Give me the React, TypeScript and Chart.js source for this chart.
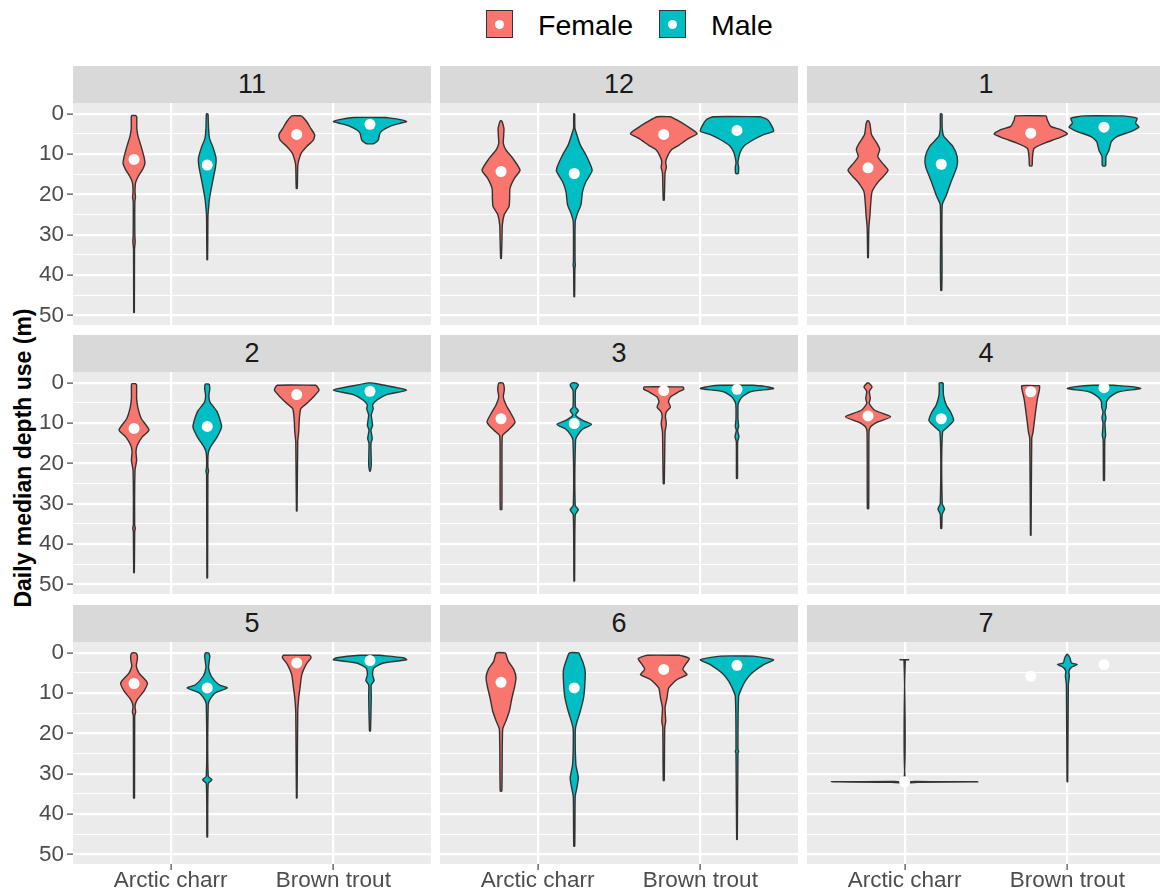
import React, { useEffect, useRef } from 'react';
import { Chart, registerables } from 'chart.js';

Chart.register(...registerables);

type Shape = [number, number][];

// ---------------- data ----------------
const months = ['11', '12', '1', '2', '3', '4', '5', '6', '7'];
const species = ['Arctic charr', 'Brown trout'];
const sexes = ['Female', 'Male'];
const depthTicks = [0, 5, 10, 15, 20, 25, 30, 35, 40, 45, 50];
const speciesTicks = [1, 2];

// violin outlines: [depth (m), half width (x units)]
const m11AcF: Shape = [[0.4,0.012],[0.8,0.017],[3.6,0.017],[5.6,0.025],[7.7,0.041],[10.6,0.061],[12.3,0.067],[13.9,0.051],[15.6,0.025],[17,0.01],[19.3,0.006],[20.6,0.009],[21.8,0.005],[30,0.005],[31.8,0.007],[33.5,0.003],[49.3,0.002]];
const m11AcM: Shape = [[0,0.005],[3.6,0.008],[6.1,0.014],[8.5,0.037],[11,0.054],[13.1,0.051],[16.8,0.033],[21,0.014],[24.3,0.006],[26,0.004],[36.2,0.002]];
const m11BtF: Shape = [[0.5,0.03],[1.9,0.061],[3.6,0.086],[5.2,0.11],[6.5,0.102],[8.1,0.061],[9.8,0.027],[11.9,0.01],[13.1,0.006],[18.5,0.003]];
const m11BtM: Shape = [[0.9,0.1],[1.3,0.17],[1.9,0.225],[2.4,0.18],[3.1,0.123],[4.0,0.08],[4.8,0.061],[6.5,0.051],[7.1,0.035],[7.4,0.02]];

const m12AcF: Shape = [[1.7,0.004],[2.3,0.01],[3.6,0.018],[5.6,0.016],[7.3,0.014],[9,0.031],[11,0.072],[14,0.117],[16,0.082],[18.5,0.055],[21,0.053],[23,0.049],[25,0.02],[27.6,0.008],[31,0.006],[35.9,0.002]];
const m12AcM: Shape = [[0,0.003],[3.6,0.004],[4.4,0.01],[7.7,0.037],[10.2,0.072],[14,0.11],[16.8,0.072],[19.3,0.051],[22.6,0.041],[24.7,0.02],[26.8,0.006],[36.7,0.005],[37.5,0.007],[38.3,0.004],[45.4,0.002]];
const m12BtF: Shape = [[0.7,0.041],[2,0.102],[3.6,0.164],[4.9,0.205],[6.1,0.153],[7.8,0.092],[9,0.045],[10.8,0.02],[12,0.012],[13.3,0.016],[14.6,0.008],[21.4,0.003]];
const m12BtM: Shape = [[0.7,0.143],[1.5,0.19],[3.1,0.215],[4.3,0.225],[5.2,0.16],[6.3,0.106],[7.9,0.045],[9.5,0.02],[11,0.01],[12.2,0.006],[13.2,0.01],[14.8,0.008]];

const m1AcF: Shape = [[1.7,0.004],[2.5,0.012],[5.2,0.022],[7.3,0.055],[8.8,0.072],[10.6,0.06],[12.3,0.09],[14,0.123],[15.5,0.095],[17,0.06],[19.3,0.025],[22.6,0.016],[25.1,0.012],[28.4,0.005],[35.7,0.002]];
const m1AcM: Shape = [[0,0.005],[3.6,0.006],[5.6,0.016],[8.1,0.072],[10.6,0.098],[13.1,0.096],[16.8,0.061],[20.2,0.031],[22.6,0.006],[38.4,0.005],[43.8,0.003]];
const m1BtF: Shape = [[0.5,0.095],[1.5,0.102],[3.1,0.123],[3.9,0.184],[5,0.225],[6.1,0.164],[7.3,0.082],[8.6,0.02],[11.1,0.01],[12.9,0.008]];
const m1BtM: Shape = [[0.5,0.12],[1.1,0.204],[2.3,0.194],[3.3,0.215],[4.4,0.164],[5.6,0.082],[6.9,0.045],[9,0.031],[10.6,0.012],[12.9,0.01]];

const m2AcF: Shape = [[0.2,0.012],[0.6,0.016],[3.9,0.016],[6.4,0.025],[8.9,0.045],[11.7,0.092],[13.4,0.051],[15.5,0.02],[17.1,0.012],[19.2,0.016],[21.7,0.006],[35.3,0.004],[36.1,0.008],[36.9,0.004],[47.1,0.002]];
const m2AcM: Shape = [[0.3,0.012],[1.4,0.016],[3.1,0.01],[4.7,0.016],[7.2,0.061],[10.9,0.088],[13.4,0.061],[15.9,0.02],[17.5,0.006],[21,0.004],[21.9,0.008],[22.8,0.004],[48.4,0.002]];
const m2BtF: Shape = [[0.6,0.12],[1.8,0.137],[3.5,0.102],[5.1,0.061],[6.4,0.025],[8.9,0.016],[12.2,0.012],[14.6,0.006],[31.8,0.002]];
const m2BtM: Shape = [[0,0.01],[0.7,0.102],[1.8,0.225],[2.9,0.102],[4.3,0.041],[5.5,0.016],[6.4,0.02],[8,0.008],[10.5,0.016],[11.7,0.006],[13.8,0.014],[15,0.006],[20.4,0.008],[21.9,0.002]];

const m3AcF: Shape = [[0,0.012],[0.6,0.018],[1.8,0.02],[3.5,0.014],[5.5,0.031],[7.6,0.061],[9.8,0.086],[11.7,0.045],[13,0.01],[15.1,0.006],[31.4,0.005]];
const m3AcM: Shape = [[0,0.012],[0.5,0.025],[1,0.02],[1.8,0.008],[3.9,0.006],[6,0.008],[6.9,0.025],[8,0.008],[9.3,0.051],[10.3,0.106],[11.5,0.051],[13,0.02],[14.2,0.008],[30.4,0.006],[31.5,0.025],[32.7,0.006],[49.2,0.002]];
const m3BtF: Shape = [[1,0.12],[1.6,0.123],[2.2,0.092],[3.5,0.041],[4.7,0.029],[6,0.041],[7.2,0.016],[8.4,0.01],[10.1,0.016],[12.2,0.008],[25,0.003]];
const m3BtM: Shape = [[0.6,0.1],[0.8,0.164],[1.4,0.225],[2.2,0.082],[3.5,0.031],[5.1,0.008],[8.9,0.006],[10.8,0.01],[11.8,0.004],[13.4,0.012],[14.6,0.004],[23.7,0.003]];

const m4AcF: Shape = [[0,0.004],[1,0.025],[2.1,0.008],[3.9,0.014],[5.1,0.008],[6.8,0.041],[8.4,0.139],[9.7,0.061],[10.9,0.016],[12.2,0.006],[31.2,0.004]];
const m4AcM: Shape = [[0,0.012],[1,0.012],[3.1,0.014],[5.5,0.031],[7.2,0.057],[9.3,0.076],[10.9,0.041],[12.2,0.008],[30,0.006],[31.3,0.02],[32.6,0.006],[36.1,0.003]];
const m4BtF: Shape = [[0.7,0.055],[1.8,0.053],[3.9,0.041],[8,0.027],[12.2,0.014],[13.8,0.006],[37.8,0.002]];
const m4BtM: Shape = [[0.6,0.061],[1,0.184],[1.4,0.225],[2.2,0.092],[3.5,0.037],[4.7,0.016],[6,0.014],[7.3,0.006],[8.7,0.012],[10,0.006],[13.1,0.01],[14,0.005],[24.2,0.003]];

const m5AcF: Shape = [[0,0.012],[0.6,0.02],[1.7,0.02],[3.3,0.014],[5,0.031],[7.4,0.082],[9.5,0.061],[11.6,0.02],[13.2,0.006],[14.7,0.01],[15.7,0.004],[36,0.003]];
const m5AcM: Shape = [[0,0.01],[0.8,0.016],[2.1,0.012],[3.7,0.008],[5.8,0.025],[7.9,0.072],[8.7,0.123],[9.9,0.051],[11.6,0.016],[12.8,0.006],[30.6,0.006],[31.5,0.029],[32.4,0.006],[45.7,0.002]];
const m5BtF: Shape = [[0.6,0.082],[1.2,0.088],[2.9,0.057],[5.4,0.031],[8.7,0.02],[11.2,0.012],[14.9,0.006],[36,0.002]];
const m5BtM: Shape = [[0.6,0.061],[1.2,0.204],[1.7,0.225],[2.5,0.082],[3.7,0.025],[5.4,0.016],[6.9,0.025],[7.9,0.008],[10.8,0.008],[19.4,0.003]];

const m6AcF: Shape = [[0,0.028],[2.1,0.045],[4.1,0.078],[6.2,0.092],[8.7,0.082],[11.2,0.067],[14.5,0.051],[17,0.029],[19,0.01],[34.3,0.005]];
const m6AcM: Shape = [[0,0.029],[2.1,0.051],[4.5,0.067],[7.9,0.065],[11.2,0.057],[14.5,0.037],[17.8,0.012],[19.4,0.006],[27.7,0.01],[31,0.025],[33.5,0.016],[35.6,0.006],[48,0.003]];
const m6BtF: Shape = [[0.6,0.1],[1.4,0.157],[2.9,0.133],[4.1,0.117],[5.4,0.143],[6.6,0.082],[8.7,0.031],[11.2,0.02],[13.6,0.008],[17,0.012],[18.5,0.006],[31.7,0.003]];
const m6BtM: Shape = [[0.8,0.1],[1.7,0.225],[2.9,0.164],[5,0.092],[7,0.051],[9.1,0.025],[10.8,0.01],[24,0.006],[24.5,0.01],[25,0.006],[46.3,0.002]];

const m7AcM: Shape = [[1.7,0.028],[1.8,0.004],[31.7,0.004],[31.9,0.08],[32,0.45],[32.1,0.08],[32.3,0.004]];
const m7BtM: Shape = [[0.4,0.004],[1.2,0.016],[2.5,0.025],[2.9,0.061],[3.6,0.025],[4.5,0.01],[5.8,0.012],[7.9,0.006],[32,0.002]];

// group order: [Arctic charr F, Arctic charr M, Brown trout F, Brown trout M]
const violins11 = [m11AcF, m11AcM, m11BtF, m11BtM];
const violins12 = [m12AcF, m12AcM, m12BtF, m12BtM];
const violins1 = [m1AcF, m1AcM, m1BtF, m1BtM];
const violins2 = [m2AcF, m2AcM, m2BtF, m2BtM];
const violins3 = [m3AcF, m3AcM, m3BtF, m3BtM];
const violins4 = [m4AcF, m4AcM, m4BtF, m4BtM];
const violins5 = [m5AcF, m5AcM, m5BtF, m5BtM];
const violins6 = [m6AcF, m6AcM, m6BtF, m6BtM];
const violins7 = [null, m7AcM, null, m7BtM];

const means11 = [11.3, 12.7, 5.1, 2.6];
const means12 = [14.3, 14.8, 5.1, 4.1];
const means1 = [13.4, 12.5, 4.8, 3.3];
const means2 = [11.3, 10.8, 2.9, 2.1];
const means3 = [8.9, 10.1, 1.9, 1.6];
const means4 = [8.2, 8.9, 2.2, 1.2];
const means5 = [7.6, 8.7, 2.5, 1.9];
const means6 = [7.3, 8.7, 4.1, 3.1];
const means7 = [null, 32, 5.8, 2.9];

const panelViolins = [violins11, violins12, violins1, violins2, violins3, violins4, violins5, violins6, violins7];
const panelMeans = [means11, means12, means1, means2, means3, means4, means5, means6, means7];

// ---------------- style / layout ----------------
const SEX_COLORS = ['#F8766D', '#00BFC4'];
const OUTLINE = '#333333';
const PANEL_BG = '#EBEBEB';
const STRIP_BG = '#D9D9D9';
const FONT = "'Liberation Sans', Arial, sans-serif";
const DODGE = 0.225;
const X_MIN = 0.4, X_MAX = 2.6;
const Y_MIN = -2.7, Y_MAX = 52.4;
const COL_LEFT = [73, 440, 807];
const ROW_TOP = [103, 372, 642];
const PANEL_W = 358;
const PANEL_H = 222;
const STRIP_H = 37.5;
const X_AXIS_H = 31;

const panelBg = {
  id: 'panelBg',
  beforeDraw(chart: any) {
    const { ctx, chartArea: a } = chart;
    ctx.save();
    ctx.fillStyle = PANEL_BG;
    ctx.fillRect(a.left, a.top, a.right - a.left, a.bottom - a.top);
    ctx.restore();
  },
};

function outline(shape: Shape, c: number) {
  const right = shape.map(([d, w]) => ({ x: c + w, y: d }));
  const left = shape.slice().reverse().map(([d, w]) => ({ x: c - w, y: d }));
  return [...right, ...left, right[0]];
}

function buildDatasets(violins: (Shape | null)[], means: (number | null)[]) {
  const ds: any[] = [];
  for (let sp = 0; sp < 2; sp++) {
    const vIdx = [0, 1].filter((sx) => violins[sp * 2 + sx]);
    for (const sx of vIdx) {
      const c = speciesTicks[sp] + (vIdx.length === 2 ? (sx === 0 ? -DODGE : DODGE) : 0);
      ds.push({
        label: species[sp] + ' ' + sexes[sx],
        data: outline(violins[sp * 2 + sx] as Shape, c),
        showLine: true,
        fill: 'shape',
        backgroundColor: SEX_COLORS[sx],
        borderColor: OUTLINE,
        borderWidth: 1.4,
        pointRadius: 0,
        pointHoverRadius: 0,
        tension: 0.2,
        order: 1,
      });
    }
    const mIdx = [0, 1].filter((sx) => means[sp * 2 + sx] != null);
    for (const sx of mIdx) {
      const c = speciesTicks[sp] + (mIdx.length === 2 ? (sx === 0 ? -DODGE : DODGE) : 0);
      ds.push({
        label: 'mean',
        data: [{ x: c, y: means[sp * 2 + sx] }],
        showLine: false,
        pointRadius: 5.5,
        pointHoverRadius: 5.5,
        backgroundColor: '#FFFFFF',
        borderWidth: 0,
        order: 0,
      });
    }
  }
  return ds;
}

function Panel({ idx }: { idx: number }) {
  const ref = useRef<HTMLCanvasElement>(null);
  const row = Math.floor(idx / 3);
  const col = idx % 3;
  const showY = col === 0;
  const showX = row === 2;
  const left = showY ? 0 : COL_LEFT[col];
  const width = showY ? COL_LEFT[0] + PANEL_W : PANEL_W;
  const height = PANEL_H + (showX ? X_AXIS_H : 0);

  useEffect(() => {
    const tickFont = { family: FONT, size: 22.5 };
    const chart = new Chart(ref.current as HTMLCanvasElement, {
      type: 'scatter',
      data: { datasets: buildDatasets(panelViolins[idx] as any, panelMeans[idx] as any) },
      options: {
        animation: false,
        responsive: false,
        maintainAspectRatio: false,
        events: [],
        layout: { padding: 0, autoPadding: false },
        plugins: { legend: { display: false }, tooltip: { enabled: false }, title: { display: false } },
        scales: {
          x: {
            type: 'linear',
            min: X_MIN,
            max: X_MAX,
            bounds: 'data',
            afterBuildTicks: (a: any) => { a.ticks = speciesTicks.map((v) => ({ value: v })); },
            afterFit: (a: any) => {
              a.height = showX ? X_AXIS_H : 0;
              a.paddingLeft = 0;
              a.paddingRight = 0;
              a.paddingTop = 0;
              a.paddingBottom = 0;
            },
            border: { display: false },
            grid: { color: '#FFFFFF', lineWidth: 2.2, drawTicks: showX, tickLength: 6, tickColor: OUTLINE, tickWidth: 1.1 },
            ticks: {
              display: showX,
              autoSkip: false,
              maxRotation: 0,
              padding: -3,
              color: '#4D4D4D',
              font: tickFont,
              callback: (_v: any, i: number) => species[i],
            },
          },
          y: {
            type: 'linear',
            reverse: true,
            min: Y_MIN,
            max: Y_MAX,
            bounds: 'data',
            afterBuildTicks: (a: any) => { a.ticks = depthTicks.map((v) => ({ value: v })); },
            afterFit: (a: any) => {
              a.width = showY ? COL_LEFT[0] : 0;
              a.paddingLeft = 0;
              a.paddingRight = 0;
              a.paddingTop = 0;
              a.paddingBottom = 0;
            },
            border: { display: false },
            grid: {
              color: '#FFFFFF',
              lineWidth: (c: any) => (c.tick && c.tick.value % 10 === 0 ? 2.2 : 1.1),
              drawTicks: showY,
              tickLength: 6,
              tickColor: (c: any) => (c.tick && c.tick.value % 10 === 0 ? OUTLINE : 'rgba(0,0,0,0)'),
              tickWidth: 1.1,
            },
            ticks: {
              display: showY,
              autoSkip: false,
              padding: 3,
              color: '#4D4D4D',
              font: tickFont,
              callback: (v: any) => (Number(v) % 10 === 0 ? String(v) : ''),
            },
          },
        },
      } as any,
      plugins: [panelBg],
    });
    return () => chart.destroy();
  }, [idx]);

  return (
    <canvas
      ref={ref}
      width={width}
      height={height}
      style={{ position: 'absolute', left, top: ROW_TOP[row], width, height }}
    />
  );
}

function Strip({ idx }: { idx: number }) {
  const row = Math.floor(idx / 3);
  const col = idx % 3;
  return (
    <div
      style={{
        position: 'absolute',
        left: COL_LEFT[col],
        top: ROW_TOP[row] - STRIP_H,
        width: PANEL_W,
        height: STRIP_H,
        background: STRIP_BG,
        color: '#1A1A1A',
        fontSize: 27,
        display: 'flex',
        alignItems: 'center',
        justifyContent: 'center',
      }}
    >
      {months[idx]}
    </div>
  );
}

function LegendKey({ left, color }: { left: number; color: string }) {
  return (
    <div
      style={{
        position: 'absolute',
        left,
        top: 10,
        width: 27,
        height: 28,
        boxSizing: 'border-box',
        border: '1.4px solid ' + OUTLINE,
        background: color,
      }}
    >
      <div
        style={{
          position: 'absolute',
          left: '50%',
          top: '50%',
          width: 9,
          height: 9,
          marginLeft: -4.5,
          marginTop: -4.5,
          borderRadius: '50%',
          background: '#FFFFFF',
        }}
      />
    </div>
  );
}

export default function App() {
  const labelStyle = (left: number): React.CSSProperties => ({
    position: 'absolute',
    left,
    top: 5,
    height: 40,
    lineHeight: '40px',
    fontSize: 28.5,
    color: '#000',
    whiteSpace: 'nowrap',
  });
  return (
    <div
      style={{
        position: 'absolute',
        left: 0,
        top: 0,
        width: 1160,
        height: 895,
        overflow: 'hidden',
        background: '#FFFFFF',
        fontFamily: FONT,
      }}
    >
      <LegendKey left={486} color={SEX_COLORS[0]} />
      <div style={labelStyle(538)}>{sexes[0]}</div>
      <LegendKey left={659} color={SEX_COLORS[1]} />
      <div style={labelStyle(711)}>{sexes[1]}</div>

      <div
        style={{
          position: 'absolute',
          left: 22.5,
          top: 458,
          transform: 'translate(-50%, -50%) rotate(-90deg)',
          whiteSpace: 'nowrap',
          fontWeight: 'bold',
          fontSize: 23,
          color: '#000',
        }}
      >
        Daily median depth use (m)
      </div>

      {months.map((_, i) => (
        <Strip key={'s' + i} idx={i} />
      ))}
      {months.map((_, i) => (
        <Panel key={'p' + i} idx={i} />
      ))}
    </div>
  );
}
